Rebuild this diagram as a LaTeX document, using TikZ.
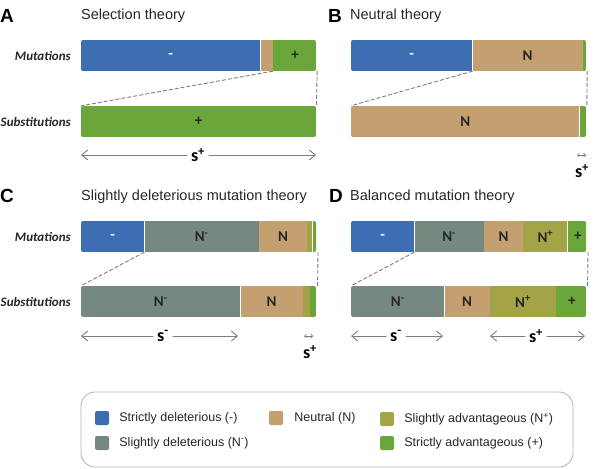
\documentclass[tikz,border=0pt]{standalone}
\usepackage{fontspec}
\setmainfont{Liberation Sans}
\newfontfamily\calib{Carlito}
\usetikzlibrary{arrows.meta,positioning}
\definecolor{cblue}{RGB}{62,110,178}
\definecolor{ctan}{RGB}{196,160,112}
\definecolor{cgrey}{RGB}{117,137,128}
\definecolor{colive}{RGB}{163,163,72}
\definecolor{cgreen}{RGB}{106,166,58}
\definecolor{cline}{RGB}{125,125,125}
\tikzset{
  seg/.style={rectangle,inner sep=0pt,minimum height=31pt,text=black!85,font={\calib\bfseries\fontsize{15}{17}\selectfont}},
  rowlab/.style={anchor=east,inner sep=0pt,text=black!85,font={\calib\bfseries\itshape\fontsize{13}{15}\selectfont}},
  panel/.style={anchor=base west,inner sep=0pt,font={\bfseries\fontsize{19}{22}\selectfont}},
  ptitle/.style={anchor=base west,inner sep=0pt,text=black!85,font={\fontsize{14.5}{17}\selectfont}},
  slab/.style={inner sep=4pt,font={\calib\bfseries\fontsize{18}{20}\selectfont}},
  dashln/.style={cline,line width=0.9pt,dash pattern=on 3.5pt off 2.5pt},
  garr/.style={cline,line width=0.9pt,-{Straight Barb[length=6pt,width=10pt]}},
  tinyarr/.style={cline,line width=0.6pt,{Straight Barb[length=2pt,width=4pt]}-{Straight Barb[length=2pt,width=4pt]}},
  key/.style={rectangle,rounded corners=2pt,minimum size=14pt,inner sep=0pt},
  keytext/.style={anchor=west,inner sep=0pt,text=black!85,font={\fontsize{12.5}{15}\selectfont}}
}
\begin{document}
\begin{tikzpicture}[x=1pt,y=-1pt,line cap=round,line join=round]
\useasboundingbox (0,0) rectangle (604,468);
% A: selection theory
\node[panel] (pA) at (0,23) {A};
\node[ptitle] (tA) at (81,20) {Selection theory};
\node[rowlab] (muA) at (71,55.5) {Mutations};
\node[rowlab] (suA) at (71,122) {Substitutions};
\begin{scope}
\clip[rounded corners=2pt] (81,40) rectangle (316,71);
\node[seg,fill=cblue,text=white,minimum width=179pt,anchor=west] (amu1) at (81,55.5) {-};
\node[seg,fill=ctan,minimum width=12pt,right=0pt of amu1] (amu2) {};
\node[seg,fill=cgreen,minimum width=44pt,right=0pt of amu2] (amu3) {+};
\end{scope}
\begin{scope}
\clip[rounded corners=2pt] (81,106) rectangle (316,137);
\node[seg,fill=cgreen,minimum width=235pt,anchor=west] (asu1) at (81,121.5) {+};
\end{scope}
\draw[dashln] (amu2.south east) -- (asu1.north west);
\draw[dashln] (amu3.south east) -- (asu1.north east);
\node[slab] (sA) at (198,155) {s\textsuperscript{+}};
\coordinate (aL) at (81,155);
\coordinate (aR) at (316,155);
\draw[garr] (sA) -- (aL);
\draw[garr] (sA) -- (aR);
% B: neutral theory
\node[panel] (pB) at (328,23) {B};
\node[ptitle] (tB) at (350,20) {Neutral theory};
\begin{scope}
\clip[rounded corners=2pt] (351,40) rectangle (586,71);
\node[seg,fill=cblue,text=white,minimum width=121pt,anchor=west] (bmu1) at (351,55.5) {-};
\node[seg,fill=ctan,minimum width=110pt,right=0pt of bmu1] (bmu2) {N};
\node[seg,fill=cgreen,minimum width=4pt,right=0pt of bmu2] (bmu3) {};
\end{scope}
\begin{scope}
\clip[rounded corners=2pt] (351,106) rectangle (586,137);
\node[seg,fill=ctan,minimum width=228pt,anchor=west] (bsu1) at (351,121.5) {N};
\node[seg,fill=cgreen,minimum width=7pt,right=0pt of bsu1] (bsu2) {};
\end{scope}
\draw[dashln] (bmu1.south east) -- (bsu1.north west);
\draw[dashln] (bmu3.south east) -- (bsu2.north east);
\coordinate (bL) at (577,155);
\coordinate (bR) at (586,155);
\draw[tinyarr] (bL) -- (bR);
\node[slab] (sB) at (582,171) {s\textsuperscript{+}};
% C: slightly deleterious mutation theory
\node[panel] (pC) at (0,202) {C};
\node[ptitle] (tC) at (81,200) {Slightly deleterious mutation theory};
\node[rowlab] (muC) at (71,236.5) {Mutations};
\node[rowlab] (suC) at (71,302) {Substitutions};
\begin{scope}
\clip[rounded corners=2pt] (81,221) rectangle (316,252);
\node[seg,fill=cblue,text=white,minimum width=63pt,anchor=west] (cmu1) at (81,236.5) {-};
\node[seg,fill=cgrey,minimum width=114pt,right=0pt of cmu1] (cmu2) {N\textsuperscript{-}};
\node[seg,fill=ctan,minimum width=48pt,right=0pt of cmu2] (cmu3) {N};
\node[seg,fill=colive,minimum width=5pt,right=0pt of cmu3] (cmu4) {};
\node[seg,fill=cgreen,minimum width=5pt,right=0pt of cmu4] (cmu5) {};
\end{scope}
\begin{scope}
\clip[rounded corners=2pt] (81,286) rectangle (316,317);
\node[seg,fill=cgrey,minimum width=159pt,anchor=west] (csu1) at (81,301.5) {N\textsuperscript{-}};
\node[seg,fill=ctan,minimum width=62pt,right=0pt of csu1] (csu2) {N};
\node[seg,fill=colive,minimum width=7pt,right=0pt of csu2] (csu3) {};
\node[seg,fill=cgreen,minimum width=7pt,right=0pt of csu3] (csu4) {};
\end{scope}
\draw[dashln] (cmu1.south east) -- (csu1.north west);
\draw[dashln] (cmu5.south east) -- (csu4.north east);
\node[slab] (sC1) at (163,336) {s\textsuperscript{-}};
\coordinate (cL) at (81,336);
\coordinate (cR) at (238,336);
\draw[garr] (sC1) -- (cL);
\draw[garr] (sC1) -- (cR);
\coordinate (cL2) at (304,336);
\coordinate (cR2) at (313,336);
\draw[tinyarr] (cL2) -- (cR2);
\node[slab] (sC2) at (310,352) {s\textsuperscript{+}};
% D: balanced mutation theory
\node[panel] (pD) at (329,202) {D};
\node[ptitle] (tD) at (350,200) {Balanced mutation theory};
\begin{scope}
\clip[rounded corners=2pt] (351,221) rectangle (586,252);
\node[seg,fill=cblue,text=white,minimum width=63pt,anchor=west] (dmu1) at (351,236.5) {-};
\node[seg,fill=cgrey,minimum width=69pt,right=0pt of dmu1] (dmu2) {N\textsuperscript{-}};
\node[seg,fill=ctan,minimum width=39pt,right=0pt of dmu2] (dmu3) {N};
\node[seg,fill=colive,minimum width=44pt,right=0pt of dmu3] (dmu4) {N\textsuperscript{+}};
\node[seg,fill=cgreen,minimum width=20pt,right=0pt of dmu4] (dmu5) {+};
\end{scope}
\begin{scope}
\clip[rounded corners=2pt] (351,286) rectangle (586,317);
\node[seg,fill=cgrey,minimum width=93pt,anchor=west] (dsu1) at (351,301.5) {N\textsuperscript{-}};
\node[seg,fill=ctan,minimum width=45pt,right=0pt of dsu1] (dsu2) {N};
\node[seg,fill=colive,minimum width=66pt,right=0pt of dsu2] (dsu3) {N\textsuperscript{+}};
\node[seg,fill=cgreen,minimum width=31pt,right=0pt of dsu3] (dsu4) {+};
\end{scope}
\draw[dashln] (dmu1.south east) -- (dsu1.north west);
\draw[dashln] (dmu5.south east) -- (dsu4.north east);
\node[slab] (sD1) at (396,336) {s\textsuperscript{-}};
\coordinate (dL) at (351,336);
\coordinate (dR) at (443,336);
\draw[garr] (sD1) -- (dL);
\draw[garr] (sD1) -- (dR);
\node[slab] (sD2) at (536,336) {s\textsuperscript{+}};
\coordinate (dL2) at (490,336);
\coordinate (dR2) at (585,336);
\draw[garr] (sD2) -- (dL2);
\draw[garr] (sD2) -- (dR2);
% legend
\draw[black!30,line width=0.8pt,rounded corners=14pt] (81,392) rectangle (573,467);
\node[key,fill=cblue] (k1) at (102,418) {};
\node[keytext,right=10pt of k1] (k1t) {Strictly deleterious (-)};
\node[key,fill=cgrey] (k2) at (102,443) {};
\node[keytext,right=10pt of k2] (k2t) {Slightly deleterious (N\textsuperscript{-})};
\node[key,fill=ctan] (k3) at (276,418) {};
\node[keytext,right=11pt of k3] (k3t) {Neutral (N)};
\node[key,fill=colive] (k4) at (387,419) {};
\node[keytext,right=10pt of k4] (k4t) {Slightly advantageous (N\textsuperscript{+})};
\node[key,fill=cgreen] (k5) at (387,443) {};
\node[keytext,right=10pt of k5] (k5t) {Strictly advantageous (+)};
\end{tikzpicture}
\end{document}
